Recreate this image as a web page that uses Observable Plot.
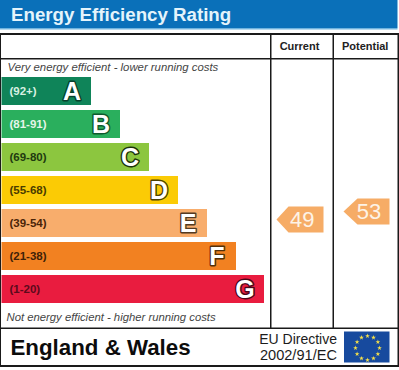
<!DOCTYPE html>
<html>
<head>
<meta charset="utf-8">
<script src="https://cdn.jsdelivr.net/npm/d3@7"></script>
<script src="https://cdn.jsdelivr.net/npm/@observablehq/plot@0.6"></script>
<style>
html,body{margin:0;padding:0;background:#fff}
svg{display:block}
</style>
</head>
<body>
<div id="chart"></div>
<script>
const title = "Energy Efficiency Rating";
const bands = ["A","B","C","D","E","F","G"];
const ranges = ["(92+)","(81-91)","(69-80)","(55-68)","(39-54)","(21-38)","(1-20)"];
const barLengths = [91,120,149,178,207,236,264];
const barColors = ["#0f8459","#2aaf5d","#8cc63f","#fbcb05","#f8ad6c","#f28121","#e91c3f"];
const labelColors = ["#d8f0e2","#e4f5e8","#1f3a10","#4a3c00","#4a2408","#3f2208","#5c0a1c"];
const letterStrokes = ["#07412c","#0f5a2e","#1a3209","#4f4300","#543a22","#54300a","#4a0618"];
const ratingNames = ["Current","Potential"];
const ratingValues = [49,53];
const topNote = "Very energy efficient - lower running costs";
const bottomNote = "Not energy efficient - higher running costs";
const region = "England & Wales";
const directive = ["EU Directive","2002/91/EC"];

const W = 399, H = 370;
const rows = bands.map((b,i)=>({band:b,range:ranges[i],len:barLengths[i],color:barColors[i],lc:labelColors[i],ls:letterStrokes[i]}));
const ink = "#1a1a1a";

// chrome rectangle positioned by the x scale and frame insets
const box = (x1,x2,top,bottom,fill) => Plot.rect([0],{x1:()=>x1,x2:()=>x2,insetTop:top,insetBottom:H-bottom,fill});
const label = (text,anchor,dx,dy,o) => Plot.text([text],{text:d=>d,frameAnchor:anchor,dx,dy,lineAnchor:"middle",fontFamily:"Liberation Sans",...o});

const arrow = {draw(c){ c.moveTo(-26,0); c.lineTo(-14,-13); c.lineTo(21,-13); c.lineTo(21,13); c.lineTo(-14,13); c.closePath(); }};
const arrow2 = {draw(c){ c.moveTo(-23,0); c.lineTo(-9,-13); c.lineTo(23,-13); c.lineTo(23,13); c.lineTo(-9,13); c.closePath(); }};

const flagCx = 367, flagCy = 347.5, flagR = 12;
const stars = d3.range(12).map(i=>{
  const a = i*Math.PI/6;
  return Plot.dot([0],{frameAnchor:"top-left",dx:flagCx+flagR*Math.sin(a),dy:flagCy-flagR*Math.cos(a),symbol:"star",r:1.5,fill:"#f5e04a"});
});

const chart = Plot.plot({
  width:W,height:H,margin:0,
  style:{background:"#fff",fontFamily:"Liberation Sans"},
  x:{domain:[0,W],range:[0,W],axis:null},
  y:{domain:bands,range:[75.5,305.5],paddingInner:0.15,paddingOuter:0,axis:null},
  marks:[
    box(0,397.5,0,28,"#0a70b9"),
    box(0,397.5,28,29.5,"#6fb3de"),
    label(title,"top-left",10.5,14.5,{fontSize:18.7,fontWeight:"bold",fill:"#e4f4fb"}),
    // table frame
    box(0,399,33,35,ink),
    box(0,399,58,59.5,ink),
    box(0,399,327.5,329,ink),
    box(0,399,365,367,ink),
    box(0,1,33,367,ink),
    box(397.5,399,33,367,ink),
    box(270,271.5,33,328,ink),
    box(332.5,334,33,328,ink),
    label(ratingNames[0],"top-left",299,45.5,{fontSize:11,fontWeight:"bold",fill:"#222",textAnchor:"middle"}),
    label(ratingNames[1],"top-left",364.7,45.5,{fontSize:11,fontWeight:"bold",fill:"#222",textAnchor:"middle"}),
    label(topNote,"top-left",7,67,{fontSize:11.35,fontStyle:"italic",fill:"#444"}),
    label(bottomNote,"top-left",6,316.5,{fontSize:11.3,fontStyle:"italic",fill:"#444"}),
    // bands
    Plot.barX(rows,{x1:()=>1.5,x2:"len",y:"band",fill:"color"}),
    Plot.text(rows,{x:()=>9,y:"band",text:"range",textAnchor:"start",fontSize:11.5,fontWeight:"bold",fill:"lc"}),
    Plot.text(rows,{x:"len",dx:-19.5,y:"band",text:"band",fontSize:25,fontWeight:"bold",fill:"#fff",stroke:"ls",strokeWidth:2.8,paintOrder:"stroke",textAnchor:"middle"}),
    // rating arrows
    Plot.dot([ratingValues[0]],{x:()=>302,y:()=>"E",dy:-4,symbol:arrow,fill:"#f6ac66"}),
    Plot.text([ratingValues[0]],{x:()=>301.7,y:()=>"E",dy:-3.5,text:d=>String(d),fontSize:22,fill:"#fdf3e6",textAnchor:"middle"}),
    Plot.dot([ratingValues[1]],{x:()=>366,y:()=>"E",dy:-12,symbol:arrow2,fill:"#f6ac66"}),
    Plot.text([ratingValues[1]],{x:()=>368.5,y:()=>"E",dy:-12,text:d=>String(d),fontSize:22,fill:"#fdf3e6",textAnchor:"middle"}),
    // footer
    label(region,"top-left",10,347,{fontSize:22.3,fontWeight:"bold",fill:"#0c0c0c"}),
    label(directive[0],"top-left",336.5,339.5,{fontSize:14,fill:"#1c1c1c",textAnchor:"end"}),
    label(directive[1],"top-left",336.5,355,{fontSize:14.6,fill:"#1c1c1c",textAnchor:"end"}),
    box(344,389.5,331.5,362.5,"#174a9e"),
    ...stars
  ]
});
document.getElementById("chart").appendChild(chart);
</script>
</body>
</html>
